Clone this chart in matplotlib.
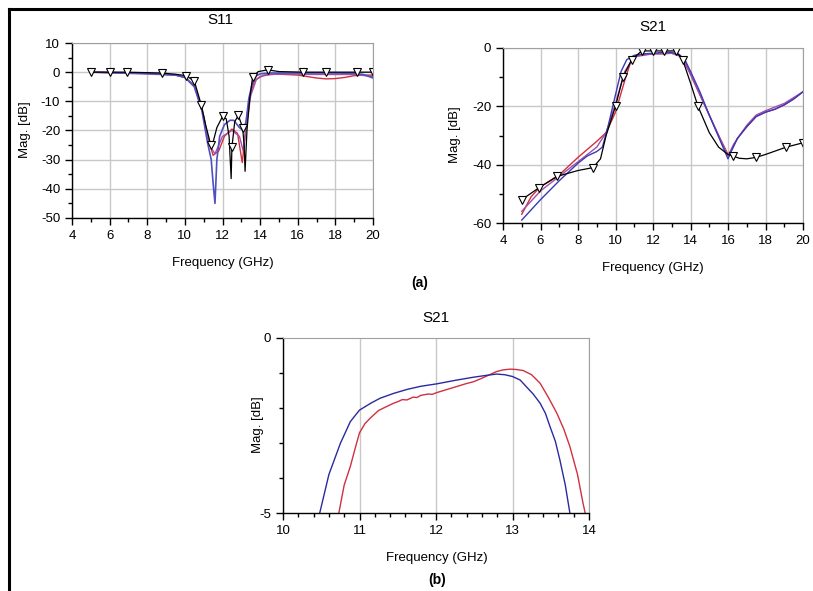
import matplotlib
matplotlib.use('Agg')
import matplotlib.pyplot as plt
from matplotlib.lines import Line2D
from matplotlib.ticker import MultipleLocator, FixedLocator

plt.rcParams['font.family'] = ['Liberation Sans', 'DejaVu Sans']
plt.rcParams['axes.unicode_minus'] = False

# S11 (a) data
s11_blk_f = [5.0, 6.0, 6.9, 8.8, 9.5, 10.05, 10.5, 10.87, 11.1, 11.38, 11.5, 11.7, 12.0, 12.2, 12.35,
             12.46, 12.5, 12.65, 12.84, 13.07, 13.15, 13.2, 13.3, 13.45, 13.6, 13.9, 14.4, 15.0, 16.3,
             17.5, 19.15, 20.0]
s11_blk_v = [0, 0, 0, -0.3, -0.7, -1.2, -3, -11.2, -18, -25, -24, -19, -15.2, -16, -22,
             -36.5, -25.8, -17, -14.8, -19, -25, -34, -20, -9, -1.7, 0.2, 0.8, 0.2, 0,
             0, 0, 0]
s11_blk_mk = [0, 1, 2, 3, 5, 6, 7, 9, 12, 16, 18, 19, 24, 26, 28, 29, 30, 31]

s11_blu_f = [5, 8, 9.5, 10, 10.5, 10.9, 11.2, 11.4, 11.5, 11.6, 11.7, 11.85, 12.1, 12.4, 12.6,
             12.9, 13.1, 13.25, 13.4, 13.6, 13.8, 14.0, 14.5, 15, 16, 17, 18, 19, 19.5, 20]
s11_blu_v = [0, -0.4, -1.0, -1.8, -5, -13, -24, -30, -38, -45, -30, -22, -18, -16.5, -16.5,
             -19, -20, -17, -9, -3.5, -1.2, -0.6, -0.3, -0.3, -0.3, -0.3, -0.3, -0.4, -0.8, -2]

s11_red_f = [5, 8, 9.5, 10, 10.5, 10.9, 11.2, 11.5, 11.8, 12.1, 12.5, 12.8, 12.95, 13.05, 13.15,
             13.3, 13.5, 13.7, 14.0, 14.5, 15, 16, 16.5, 17, 17.5, 18, 18.5, 19, 19.5, 20]
s11_red_v = [0, -0.4, -1.0, -1.8, -4.5, -12, -22, -28.5, -27, -22, -19.5, -21, -27, -31, -25,
             -15, -7, -3, -1.5, -0.8, -0.7, -1, -1.5, -2, -2.3, -2.2, -1.8, -1.2, -1, -1]

s11_pur_f = [5, 9.5, 10, 10.5, 11, 11.3, 11.6, 12, 12.5, 12.9, 13.1, 13.3, 13.5, 13.8, 14.2,
             15, 17, 19, 20]
s11_pur_v = [0, -1, -1.8, -4.5, -15, -25, -28, -22, -20, -22, -27, -17, -8, -2.5, -1,
             -0.6, -0.8, -0.8, -1.5]

# S21 (a) data
s21_blk_f = [5.0, 5.9, 6.9, 8.0, 8.8, 9.2, 9.5, 10.0, 10.4, 10.86, 11.4, 12.0, 12.6, 13.2, 13.58,
             14.0, 14.4, 15.0, 15.5, 16.0, 16.25, 16.6, 17.0, 17.5, 18.0, 19.1, 20.0]
s21_blk_v = [-52, -48, -44, -42, -41, -38, -30, -20, -10, -4, -1, -1, -1, -1, -4,
             -12, -20, -29, -34, -36.5, -37, -37.8, -38, -37.5, -36.5, -34, -32.5]
s21_blk_mk = [0, 1, 2, 4, 7, 8, 9, 10, 11, 12, 13, 14, 16, 20, 23, 25, 26]

s21_red_f = [5, 5.5, 6, 7, 8, 9, 9.5, 10, 10.5, 10.8, 11, 11.5, 12, 12.5, 13, 13.4, 13.7, 14,
             14.5, 15, 15.5, 16, 16.2, 16.5, 17, 17.5, 18, 18.5, 19, 19.5, 20]
s21_red_v = [-57, -51, -47.5, -43.5, -37.5, -32, -29, -22, -11, -5, -3, -2.2, -2, -2, -1.8, -2.5,
             -4.5, -9, -16, -23, -30, -36.5, -35, -31, -27, -23.5, -22, -21, -19.5, -17.5, -15]

s21_blu_f = [5, 6, 7, 8, 8.5, 9, 9.3, 9.6, 10, 10.3, 10.6, 11, 11.5, 12, 12.5, 13, 13.4, 13.7,
             14, 14.5, 15, 15.5, 16, 16.2, 16.5, 17, 17.5, 18, 18.5, 19, 19.5, 20]
s21_blu_v = [-59, -52, -45.5, -39.5, -37, -35.5, -34, -27, -16, -8, -4, -2.5, -2, -1.8, -1.5,
             -1.5, -2.2, -4, -8, -15, -23, -30.5, -38, -35, -31, -27, -23.5, -22, -21, -19.5,
             -17.5, -15]

s21_pur_f = [5, 6, 7, 8, 9, 9.5, 10, 10.5, 11, 12, 13, 13.5, 14, 15, 16, 16.3, 17, 17.5, 18,
             19, 20]
s21_pur_v = [-56, -49, -44, -39, -34, -29, -19, -8, -3, -2, -1.8, -3, -9, -23, -37, -33, -26.5,
             -23, -21.5, -19, -15]

# S21 (b) zoomed passband
b_blu_f = [10.48, 10.6, 10.75, 10.88, 11.0, 11.15, 11.27, 11.45, 11.62, 11.8, 12.01, 12.25,
           12.49, 12.65, 12.79, 12.9, 13.0, 13.1, 13.18, 13.27, 13.36, 13.43, 13.49, 13.56,
           13.62, 13.69, 13.75]
b_blu_v = [-5, -3.9, -3.01, -2.39, -2.06, -1.86, -1.72, -1.58, -1.47, -1.38, -1.31, -1.21,
           -1.12, -1.07, -1.03, -1.05, -1.1, -1.2, -1.39, -1.6, -1.86, -2.15, -2.53, -2.95,
           -3.49, -4.2, -5]
b_red_f = [10.73, 10.8, 10.88, 10.95, 11.0, 11.07, 11.14, 11.25, 11.4, 11.45, 11.5, 11.56,
           11.62, 11.7, 11.75, 11.8, 11.9, 11.95, 12.01, 12.1, 12.25, 12.4, 12.49, 12.6, 12.7,
           12.79, 12.88, 12.97, 13.05, 13.14, 13.25, 13.36, 13.47, 13.58, 13.67, 13.75, 13.85,
           13.92, 13.95]
b_red_v = [-5, -4.2, -3.67, -3.1, -2.71, -2.45, -2.29, -2.07, -1.91, -1.86, -1.82, -1.76,
           -1.77, -1.69, -1.7, -1.64, -1.6, -1.61, -1.56, -1.5, -1.4, -1.3, -1.25, -1.15, -1.05,
           -0.96, -0.91, -0.89, -0.9, -0.93, -1.05, -1.29, -1.7, -2.15, -2.6, -3.1, -3.9,
           -4.7, -5]

W, H = 813, 591
fig = plt.figure(figsize=(W / 100, H / 100), dpi=100)


def px_axes(l, t, r, b):
    return fig.add_axes([l / W, 1 - b / H, (r - l) / W, (b - t) / H])


def style(ax):
    for s in ['top', 'right']:
        ax.spines[s].set_color('#a0a0a0')
        ax.spines[s].set_linewidth(0.8)
    for s in ['left', 'bottom']:
        ax.spines[s].set_color('black')
        ax.spines[s].set_linewidth(1.0)
    ax.tick_params(which='major', length=5, width=1, labelsize=9.5, colors='black', pad=3.5)
    ax.tick_params(which='minor', length=3, width=1)
    ax.grid(True, which='major', color='#c8c8c8', lw=1)
    ax.set_axisbelow(True)


def ptext(x, y, s, size=9.5, **kw):
    fig.text(x / W, 1 - y / H, s, fontsize=size, ha='center', va='center', **kw)


mk = dict(marker='v', ms=5.5, mfc='white', mec='black', mew=0.8)

# S11
ax1 = px_axes(72, 43, 373, 218)
ax1.plot(s11_red_f, s11_red_v, color='#d03040', lw=1)
ax1.plot(s11_pur_f, s11_pur_v, color='#a050a8', lw=1)
ax1.plot(s11_blu_f, s11_blu_v, color='#5050c0', lw=1.2)
ax1.plot(s11_blk_f, s11_blk_v, color='black', lw=0.9, markevery=s11_blk_mk, **mk)
ax1.set_xlim(4, 20)
ax1.set_ylim(-50, 10)
ax1.xaxis.set_major_locator(MultipleLocator(2))
ax1.xaxis.set_minor_locator(MultipleLocator(1))
ax1.yaxis.set_major_locator(MultipleLocator(10))
ax1.yaxis.set_minor_locator(MultipleLocator(5))
style(ax1)

# S21 (a)
ax2 = px_axes(503, 48, 803, 223)
ax2.plot(s21_red_f, s21_red_v, color='#d03040', lw=1)
ax2.plot(s21_pur_f, s21_pur_v, color='#a050a8', lw=1)
ax2.plot(s21_blu_f, s21_blu_v, color='#3a3ab8', lw=1)
ax2.plot(s21_blk_f, s21_blk_v, color='black', lw=0.9, markevery=s21_blk_mk, **mk)
ax2.set_xlim(4, 20)
ax2.set_ylim(-60, 0)
ax2.xaxis.set_major_locator(MultipleLocator(2))
ax2.xaxis.set_minor_locator(MultipleLocator(1))
ax2.yaxis.set_major_locator(MultipleLocator(20))
ax2.yaxis.set_minor_locator(MultipleLocator(10))
style(ax2)

# S21 (b)
ax3 = px_axes(283, 338, 589, 513)
ax3.plot(b_red_f, b_red_v, color='#d03040', lw=1)
ax3.plot(b_blu_f, b_blu_v, color='#2a2aa0', lw=1)
ax3.set_xlim(10, 14)
ax3.set_ylim(-5, 0)
ax3.xaxis.set_major_locator(MultipleLocator(1))
ax3.xaxis.set_minor_locator(MultipleLocator(0.2))
ax3.yaxis.set_major_locator(FixedLocator([-5, 0]))
ax3.yaxis.set_minor_locator(FixedLocator([-4, -3, -2, -1]))
style(ax3)
ax3.grid(False)
ax3.grid(True, axis='x', which='major', color='#c8c8c8', lw=1)

# titles and labels
ptext(220, 20, 'S11', 11)
ptext(653, 27, 'S21', 11)
ptext(436, 318, 'S21', 11)
ptext(223, 263, 'Frequency (GHz)')
ptext(653, 268, 'Frequency (GHz)')
ptext(437, 558, 'Frequency (GHz)')
ptext(25, 130, 'Mag. [dB]', rotation=90)
ptext(455, 135, 'Mag. [dB]', rotation=90)
ptext(258, 425, 'Mag. [dB]', rotation=90)
ptext(420, 283, '(a)', 10, fontweight='bold')
ptext(437, 580, '(b)', 10, fontweight='bold')

# frame lines
fig.add_artist(Line2D([8.5 / W, 8.5 / W], [0, 1 - 9 / H], color='black', lw=2.2))
fig.add_artist(Line2D([8.5 / W, 1], [1 - 9 / H, 1 - 9 / H], color='black', lw=2.2))

fig.savefig('out.png', dpi=100)
